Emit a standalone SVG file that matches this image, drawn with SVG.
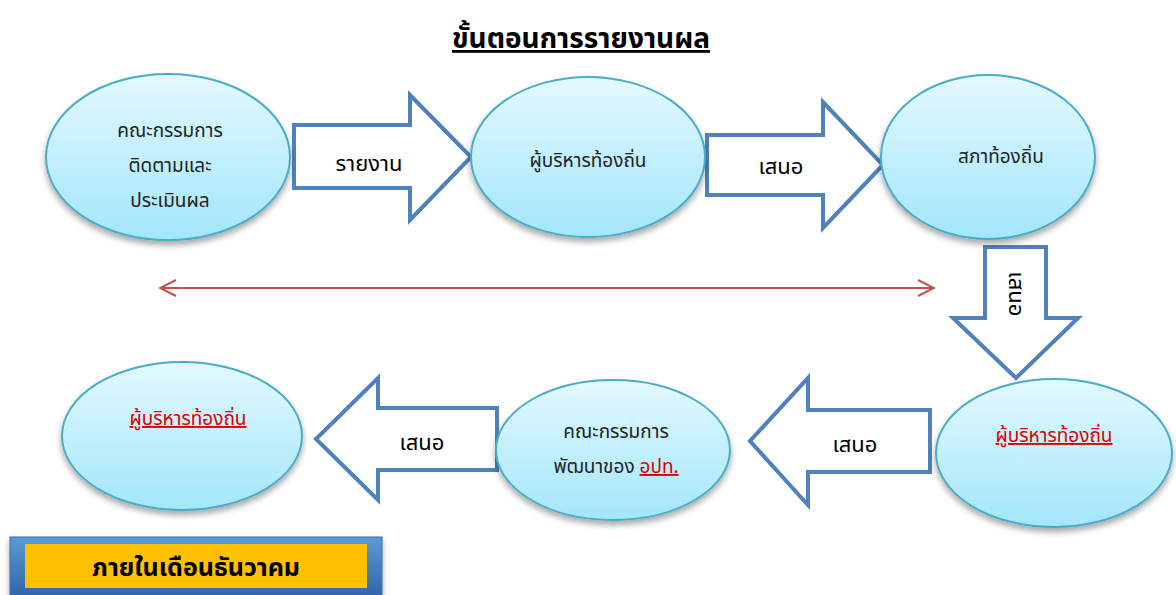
<svg xmlns="http://www.w3.org/2000/svg" width="1176" height="595" viewBox="0 0 1176 595">
<defs>
<linearGradient id="ell" x1="0" y1="0" x2="0" y2="1">
<stop offset="0" stop-color="#E3F9FE"/>
<stop offset="1" stop-color="#A3E6FB"/>
</linearGradient>
<linearGradient id="box" x1="0" y1="0" x2="0" y2="1">
<stop offset="0" stop-color="#5B9BD5"/>
<stop offset="1" stop-color="#2E64A8"/>
</linearGradient>
<filter id="sh" x="-20%" y="-20%" width="140%" height="150%">
<feGaussianBlur in="SourceAlpha" stdDeviation="3"/>
<feOffset dy="4"/>
<feComponentTransfer><feFuncA type="linear" slope="0.35"/></feComponentTransfer>
<feMerge><feMergeNode/><feMergeNode in="SourceGraphic"/></feMerge>
</filter>
<marker id="ah" viewBox="0 0 20 20" refX="18" refY="10" markerWidth="20" markerHeight="20" markerUnits="userSpaceOnUse" orient="auto-start-reverse">
<path d="M2 2 L18 10 L2 18" fill="none" stroke="#C0504D" stroke-width="2"/>
</marker>
</defs>
<style>
.t{font-family:"Noto Sans Thai","Liberation Sans","DejaVu Sans",sans-serif;}
.ell{fill:url(#ell);stroke:#4BACC6;stroke-width:2;filter:url(#sh);}
.arr{fill:#fff;stroke:#4F81BD;stroke-width:4;stroke-linejoin:miter;}
.lbl{font-size:19px;fill:#222;text-anchor:middle;}
.al{font-size:22px;fill:#000;text-anchor:middle;}
.red{fill:#E00000;text-decoration:underline;}
</style>
<rect width="1176" height="595" fill="#fff"/>
<text class="t" x="581" y="48" font-size="28" font-weight="bold" text-anchor="middle" text-decoration="underline" fill="#000">ขั้นตอนการรายงานผล</text>

<g id="connectors">
<path class="arr" d="M294 125 H410 V95 L471 157 L410 220 V188 H294 Z"/>
<text class="t al" x="369" y="171">รายงาน</text>
<path class="arr" d="M707 135 H823 V102 L883 165 L823 228 V195 H707 Z"/>
<text class="t al" x="781" y="174">เสนอ</text>
<path class="arr" d="M985 247 H1046 V318 H1078 L1016 378 L953 318 H985 Z"/>
<text class="t al" transform="translate(1009,294) rotate(90)" x="0" y="0">เสนอ</text>
<path class="arr" d="M930 410 H808 V378 L750 441 L808 505 V472 H930 Z"/>
<text class="t al" x="855" y="452">เสนอ</text>
<path class="arr" d="M497 408 H378 V378 L316 439 L378 500 V470 H497 Z"/>
<text class="t al" x="422" y="450">เสนอ</text>
<line x1="160" y1="288" x2="934" y2="288" stroke="#C0504D" stroke-width="2" marker-start="url(#ah)" marker-end="url(#ah)"/>
</g>

<g id="n1">
<ellipse class="ell" cx="168" cy="157" rx="122" ry="83"/>
<text class="t lbl" x="170" y="137">คณะกรรมการ</text>
<text class="t lbl" x="170" y="172">ติดตามและ</text>
<text class="t lbl" x="170" y="207">ประเมินผล</text>
</g>
<g id="n2">
<ellipse class="ell" cx="588" cy="157" rx="117" ry="80"/>
<text class="t lbl" x="588" y="167">ผู้บริหารท้องถิ่น</text>
</g>
<g id="n3">
<ellipse class="ell" cx="988" cy="157" rx="107" ry="82"/>
<text class="t lbl" x="1001" y="163">สภาท้องถิ่น</text>
</g>
<g id="n4">
<ellipse class="ell" cx="1054" cy="453" rx="118" ry="74"/>
<text class="t lbl red" x="1054" y="442">ผู้บริหารท้องถิ่น</text>
</g>
<g id="n5">
<ellipse class="ell" cx="613" cy="450" rx="117" ry="70"/>
<text class="t lbl" x="616" y="438">คณะกรรมการ</text>
<text class="t lbl" x="616" y="473">พัฒนาของ <tspan class="red">อปท.</tspan></text>
</g>
<g id="n6">
<ellipse class="ell" cx="182" cy="436" rx="120" ry="74"/>
<text class="t lbl red" x="188" y="425">ผู้บริหารท้องถิ่น</text>
</g>

<g id="note">
<rect x="10" y="537" width="372" height="62" fill="url(#box)" stroke="#3A6FB0" stroke-width="1" filter="url(#sh)"/>
<rect x="25" y="544" width="342" height="44" fill="#FFC000"/>
<text class="t" x="196" y="576" font-size="25" font-weight="bold" text-anchor="middle" fill="#000">ภายในเดือนธันวาคม</text>
</g>
</svg>
